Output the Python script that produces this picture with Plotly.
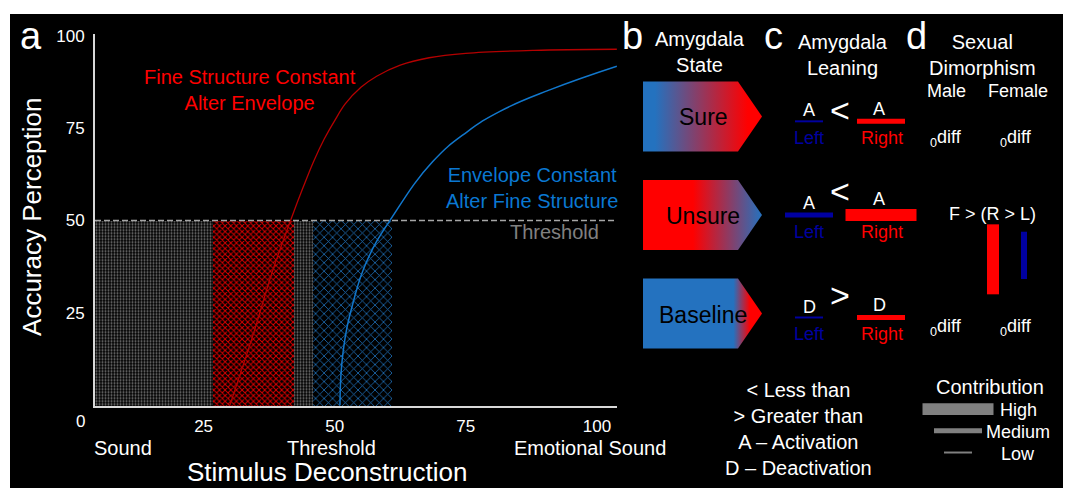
import plotly.graph_objects as go

W, H = 1068, 488
FONT = "Liberation Sans, Arial, sans-serif"
RED = "#ff0000"
BLUE = "#2472bf"
NAVY = "#0000a0"
GREY = "#808080"

# ---------------- panel a: psychometric curves ----------------
x_ticks = [25, 50, 75, 100]
y_ticks = [25, 50, 75, 100]
threshold = 50

# fine structure constant, envelope altered
fine_x = [30.0, 34.4, 38.2, 41.9, 44.0, 46.0, 48.0, 50.0, 52.0, 55.0, 58.0, 62.5, 68.0, 75.0, 88.0, 103.8]
fine_y = [0.0, 18.9, 36.5, 51.2, 59.0, 66.0, 72.0, 77.0, 81.5, 86.0, 89.0, 92.0, 94.0, 95.2, 96.0, 96.3]
# envelope constant, fine structure altered
env_x = [51.0, 51.6, 53.5, 56.2, 61.1, 68.7, 75.2, 81.5, 91.0, 103.8]
env_y = [0.0, 14.4, 27.7, 39.2, 51.2, 65.9, 73.9, 79.5, 85.3, 91.7]

# shaded bands under the threshold: (start, end) on the deconstruction axis
band_sound = (4.3, 45.9)
band_fine = (26.8, 42.2)
band_env = (45.9, 60.9)

x_labels = ["Sound", "Threshold", "Emotional Sound"]

# ---------------- panels b-d: schematic ----------------
states = ["Sure", "Unsure", "Baseline"]
state_gradients = [
    [[0, BLUE], [0.1, BLUE], [0.88, RED], [1, RED]],
    [[0, RED], [0.42, RED], [1, BLUE]],
    [[0, BLUE], [0.76, BLUE], [0.9, RED], [1, RED]],
]
lean_sign = ["&lt;", "&lt;", "&gt;"]
lean_letter = ["A", "A", "D"]
lean_left = ["Low", "Medium", "Low"]
lean_right = ["Medium", "High", "Medium"]
dimorph_male = ["<sub>0</sub>diff", "", "<sub>0</sub>diff"]
dimorph_female = ["<sub>0</sub>diff", "", "<sub>0</sub>diff"]
dimorph_note = ["", "F &gt; (R &gt; L)", ""]
dimorph_bars = [None, ("High", "Medium"), None]  # (right/red, left/blue)
contrib_levels = ["High", "Medium", "Low"]
key_lines = ["&lt; Less than", "&gt; Greater than", "A – Activation", "D – Deactivation"]

# drawing styles for contribution levels (length, thickness in px)
LEVEL_LEN = {"High": 71, "Medium": 48, "Low": 28}
LEVEL_THK = {"High": 12, "Medium": 5, "Low": 2}

fig = go.Figure()

# hatched bands
for (a, b), fg, shape, size, solid in [
    (band_sound, "#767676", ".", 3, 0.4),
    (band_fine, "#e00000", "x", 4, 0.42),
    (band_env, "#1f70b8", "x", 6, 0.25),
]:
    fig.add_trace(go.Bar(
        x=[(a + b) / 2], y=[threshold], width=[b - a], base=0,
        marker=dict(color="black", line=dict(width=0),
                    pattern=dict(shape=shape, fgcolor=fg, bgcolor="black",
                                 size=size, solidity=solid, fillmode="replace")),
        hoverinfo="skip", showlegend=False, xaxis="x", yaxis="y"))

fig.add_trace(go.Scatter(x=fine_x, y=fine_y, mode="lines",
                         line=dict(color="#b40000", width=1.3, shape="spline", smoothing=1.0),
                         showlegend=False, xaxis="x", yaxis="y"))
fig.add_trace(go.Scatter(x=env_x, y=env_y, mode="lines",
                         line=dict(color="#1177cc", width=1.5, shape="spline", smoothing=1.3),
                         showlegend=False, xaxis="x", yaxis="y"))

shapes = [
    dict(type="rect", xref="paper", yref="paper", x0=10 / W, x1=1063 / W, y0=0, y1=1 - 7 / H,
         fillcolor="black", line=dict(width=0), layer="below"),
    dict(type="line", xref="x domain", yref="y", x0=0, x1=1, y0=threshold, y1=threshold,
         line=dict(color="#a6a6a6", width=1.5, dash="6px,3px")),
]
annotations = []


def txt(x, y, text, size, color="white", xanchor="center", ref="x2", **kw):
    annotations.append(dict(
        xref=ref, yref=ref.replace("x", "y"), x=x, y=y, text=text, showarrow=False,
        font=dict(size=size, color=color, family=FONT), xanchor=xanchor, yanchor="middle", **kw))


def bar(cx, cy, length, thick, color, vertical=False):
    if vertical:
        x0, x1, y0, y1 = cx - thick / 2, cx + thick / 2, cy - length / 2, cy + length / 2
    else:
        x0, x1, y0, y1 = cx - length / 2, cx + length / 2, cy - thick / 2, cy + thick / 2
    shapes.append(dict(type="rect", xref="x2", yref="y2", x0=x0, x1=x1, y0=y0, y1=y1,
                       fillcolor=color, line=dict(width=0)))


# panel a text
txt(33.8, 85.4, "Fine Structure Constant<br>Alter Envelope", 20, RED, ref="x")
txt(87.6, 58.8, "Envelope Constant<br>Alter Fine Structure", 20, "#0a78d2", ref="x")
txt(92.0, 46.9, "Threshold", 20, GREY, ref="x")
txt(80, 421, "0", 17)
txt(92, 447, x_labels[0], 20, xanchor="left")
txt(331, 447, x_labels[1], 20)
txt(590, 447, x_labels[2], 20)
txt(327, 472, "Stimulus Deconstruction", 26)
txt(32, 213, "Accuracy Perception", 26, textangle=-90)

# panel letters
for lx, letter in zip([31, 632, 773, 916], "abcd"):
    txt(lx, 29, letter, 38)

# headers
txt(700, 46, "Amygdala<br>State", 20)
txt(843, 49, "Amygdala<br>Leaning", 20)
txt(982, 49, "Sexual<br>Dimorphism", 20)
txt(946, 85, "Male", 18)
txt(1018, 85, "Female", 18)

# panel b: state arrows with gradient fills
row_y = [111, 211, 311]
AL, AW, AT, AH = 643, 95, 24, 71
for name, grad, cy in zip(states, state_gradients, row_y):
    xs = [AL, AL + AW, AL + AW + AT, AL + AW, AL, AL]
    ys = [cy - AH / 2, cy - AH / 2, cy, cy + AH / 2, cy + AH / 2, cy - AH / 2]
    fig.add_trace(go.Scatter(
        x=xs, y=ys, mode="lines", fill="toself", line=dict(width=0),
        fillgradient=dict(type="horizontal", colorscale=grad),
        hoverinfo="skip", showlegend=False, xaxis="x2", yaxis="y2"))
    txt(703, cy + 1, name, 23, "black")

# panel c: leaning bars
bar_y = [116, 211, 315]
sign_y = [105, 187, 292]
LX, RX = 809, 881
for sign, letter, lv, rv, by, sy in zip(lean_sign, lean_letter, lean_left, lean_right, bar_y, sign_y):
    bar(LX, by, LEVEL_LEN[lv], LEVEL_THK[lv], NAVY)
    bar(RX, by, LEVEL_LEN[rv], LEVEL_THK[rv], RED)
    txt(LX, by - LEVEL_THK[lv] / 2 - 10, letter, 18)
    txt(RX - 2, by - LEVEL_THK[rv] / 2 - 10, letter, 18)
    txt(840, sy, sign, 34)
    txt(LX, by + 17, "Left", 18, NAVY)
    txt(RX + 1, by + 17, "Right", 18, RED)

# panel d: sexual dimorphism
diff_y = [133, 210, 325]
for m, f, note, bars, dy in zip(dimorph_male, dimorph_female, dimorph_note, dimorph_bars, diff_y):
    if m:
        txt(946, dy, m, 18)
    if f:
        txt(1016, dy, f, 18)
    if note:
        txt(992, dy, note, 18)
    if bars:
        rv, lv = bars
        bar(993, 256, LEVEL_LEN[rv], LEVEL_THK[rv], RED, vertical=True)
        bar(1024, 252, LEVEL_LEN[lv], LEVEL_THK[lv] + 1, NAVY, vertical=True)

# key
txt(798, 428, "<br>".join(key_lines), 20)
txt(990, 386, "Contribution", 20)
for lvl, ly in zip(contrib_levels, [408, 430, 452]):
    bar(958, ly, LEVEL_LEN[lvl], LEVEL_THK[lvl], GREY)
    txt(1018, ly + 1, lvl, 18)

axis_font = dict(size=17, color="white", family=FONT)
fig.update_layout(
    width=W, height=H, autosize=False,
    margin=dict(l=0, r=0, t=0, b=0),
    paper_bgcolor="white", plot_bgcolor="rgba(0,0,0,0)",
    barmode="overlay", bargap=0,
    showlegend=False,
    shapes=shapes, annotations=annotations,
    xaxis=dict(domain=[95 / W, 617 / W], range=[4.29, 103.83], tickvals=x_ticks,
               ticktext=[str(v) for v in x_ticks], tickfont=axis_font, ticks="",
               ticklabelstandoff=3, showgrid=False, zeroline=False,
               showline=True, linecolor="#d9d9d9", linewidth=2, anchor="y", fixedrange=True),
    yaxis=dict(domain=[1 - 405 / H, 1 - 27 / H], range=[-0.27, 100.53], tickvals=y_ticks,
               ticktext=[str(v) for v in y_ticks], tickfont=axis_font, ticks="",
               ticklabelstandoff=5, showgrid=False, zeroline=False,
               showline=True, linecolor="#d9d9d9", linewidth=2, anchor="x", fixedrange=True),
    xaxis2=dict(domain=[0, 1], range=[0, W], visible=False, anchor="y2", fixedrange=True),
    yaxis2=dict(domain=[0, 1], range=[H, 0], visible=False, anchor="x2", fixedrange=True),
)

fig.write_html("out.html")
